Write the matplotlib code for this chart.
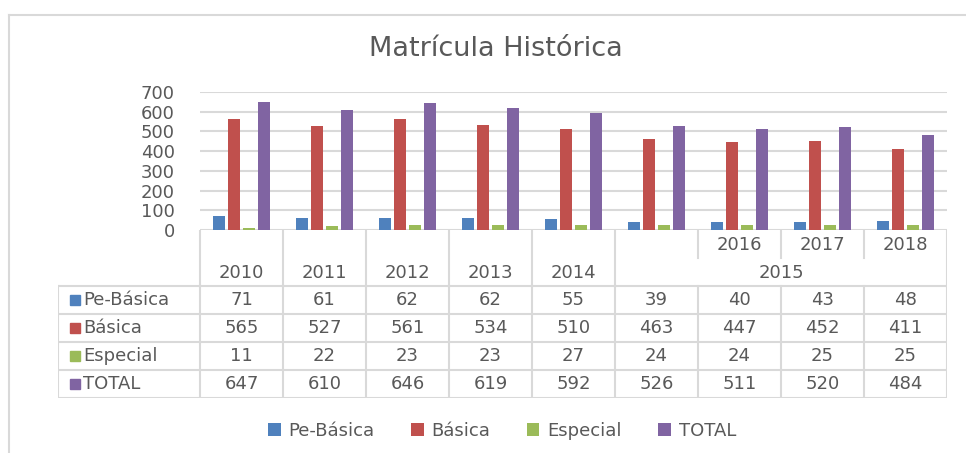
import matplotlib.pyplot as plt
from matplotlib.patches import Rectangle

# Data
series_names = ['Pe-Básica', 'Básica', 'Especial', 'TOTAL']
pre_basica = [71, 61, 62, 62, 55, 39, 40, 43, 48]
basica = [565, 527, 561, 534, 510, 463, 447, 452, 411]
especial = [11, 22, 23, 23, 27, 24, 24, 25, 25]
total = [647, 610, 646, 619, 592, 526, 511, 520, 484]
inner_labels = ['', '', '', '', '', '', '2016', '2017', '2018']
outer_labels = ['2010', '2011', '2012', '2013', '2014', '2015']
outer_spans = [(0, 0), (1, 1), (2, 2), (3, 3), (4, 4), (5, 8)]
colors = ['#4F81BD', '#C0504D', '#9BBB59', '#8064A2']

W, H = 966, 453
grid_col = '#D9D9D9'
text_col = '#595959'
fs = 13
plt.rcParams['font.family'] = ['DejaVu Sans']

fig = plt.figure(figsize=(W / 100, H / 100), dpi=100)

# outer chart frame
fig.add_artist(plt.Line2D([9 / W, 9 / W], [0, 1 - 15 / H], color=grid_col, lw=1.5))
fig.add_artist(plt.Line2D([9 / W, 1], [1 - 15 / H, 1 - 15 / H], color=grid_col, lw=1.5))

fig.text(496 / W, 1 - 49 / H, 'Matrícula Histórica', ha='center', va='center',
         fontsize=19.5, color=text_col)

# Bar chart
x_left, x_right = 200, 947
y_top, y_zero = 92, 230
ax = fig.add_axes([x_left / W, 1 - y_zero / H, (x_right - x_left) / W, (y_zero - y_top) / H])
n = len(pre_basica)
xs = list(range(n))
width = 0.14
step = 0.18
handles = []
for i, (vals, c, name) in enumerate(zip([pre_basica, basica, especial, total], colors, series_names)):
    off = (i - 1.5) * step
    b = ax.bar([x + off for x in xs], vals, width, color=c, label=name, zorder=3)
    handles.append(b)
ax.set_xlim(-0.5, n - 0.5)
ax.set_ylim(0, 700)
ax.set_yticks(range(0, 701, 100))
ax.yaxis.grid(True, color=grid_col, lw=1.5, zorder=0)
ax.tick_params(axis='y', length=0, labelsize=fs, labelcolor=text_col, pad=18)
ax.set_xticks([])
for s in ax.spines.values():
    s.set_visible(False)

# Data table
col_w = (x_right - x_left) / n
label_px = x_left - 58
tab = fig.add_axes([58 / W, 1 - 398 / H, (x_right - 58) / W, 168 / H])
x0 = -0.5 - label_px / col_w
tab.set_xlim(x0, n - 0.5)
tab.set_ylim(0, 6)
tab.axis('off')
lc = dict(color=grid_col, lw=1.5)

# horizontal lines of data rows
for yv in [0, 1, 2, 3, 4]:
    tab.plot([x0, n - 0.5], [yv, yv], **lc)
# vertical lines in data rows
for xv in [x0] + [k - 0.5 for k in range(n + 1)]:
    tab.plot([xv, xv], [0, 4], **lc)
# header vertical lines
for a, b in outer_spans:
    tab.plot([a - 0.5, a - 0.5], [4, 6], **lc)
tab.plot([n - 0.5, n - 0.5], [4, 6], **lc)
for k, lab in enumerate(inner_labels):
    if lab:
        tab.plot([k - 0.5, k - 0.5], [5.0, 6], **lc)
        tab.text(k, 5.45, lab, ha='center', va='center', fontsize=fs, color=text_col)
for lab, (a, b) in zip(outer_labels, outer_spans):
    tab.text((a + b) / 2, 4.45, lab, ha='center', va='center', fontsize=fs, color=text_col)

rows = [pre_basica, basica, especial, total]
for r, (vals, name, c) in enumerate(zip(rows, series_names, colors)):
    yc = 3.5 - r
    tab.add_patch(Rectangle((x0 + 0.14, yc - 0.19), 0.12, 0.38, color=c))
    tab.text(x0 + 0.3, yc, name, ha='left', va='center', fontsize=fs, color=text_col)
    for k, v in enumerate(vals):
        tab.text(k, yc, str(v), ha='center', va='center', fontsize=fs, color=text_col)

fig.legend(handles=handles, labels=series_names, loc='center', ncol=4,
           bbox_to_anchor=(502 / W, 1 - 431 / H), frameon=False, fontsize=fs,
           handlelength=0.7, handleheight=0.7, handletextpad=0.45, columnspacing=2.0,
           labelcolor=text_col)

fig.savefig('out.png', dpi=100, facecolor='white')
